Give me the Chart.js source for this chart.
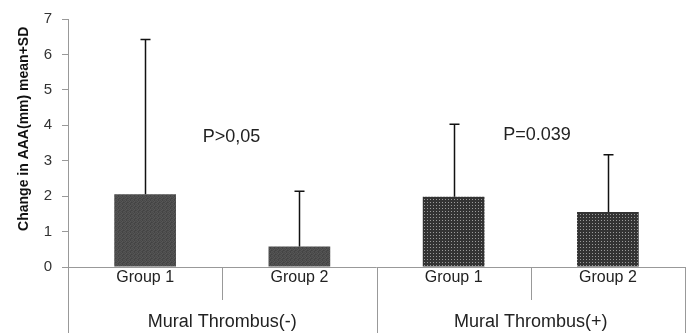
<!DOCTYPE html>
<html lang="en">
<head>
    <meta charset="UTF-8">
    <title>Change in AAA</title>
    <script src="https://cdn.jsdelivr.net/npm/chart.js"></script>
    <style>
        html, body { margin: 0; padding: 0; background: #fff; }
        #wrap { width: 694px; height: 333px; }
    </style>
</head>
<body>
    <div id="wrap"><canvas id="myChart" width="694" height="333"></canvas></div>

    <script>
        const groups = ['Group 1', 'Group 2', 'Group 1', 'Group 2'];
        const thrombusLabels = ['Mural Thrombus(-)', 'Mural Thrombus(+)'];
        const means = [2.05, 0.58, 1.98, 1.55];
        const sdTops = [6.42, 2.14, 4.03, 3.17];
        const pLabels = ['P>0,05', 'P=0.039'];
        const pPos = [0.56, 2.54];      // position along the category axis
        const pHeights = [3.67, 3.72];
        const yTicks = [0, 1, 2, 3, 4, 5, 6, 7];
        const yTitle = 'Change in AAA(mm) mean+SD';

        const FONT = '"Liberation Sans", Arial, sans-serif';

        // textures for the bars
        function noisePattern() {
            const c = document.createElement('canvas');
            c.width = 4; c.height = 4;
            const g = c.getContext('2d');
            const shades = ['#4a4a4a', '#555', '#444', '#505050',
                            '#525252', '#464646', '#585858', '#4c4c4c',
                            '#484848', '#565656', '#4e4e4e', '#424242',
                            '#545454', '#4b4b4b', '#444', '#515151'];
            for (let i = 0; i < 16; i++) {
                g.fillStyle = shades[i];
                g.fillRect(i % 4, Math.floor(i / 4), 1, 1);
            }
            return g.createPattern(c, 'repeat');
        }
        function dotPattern() {
            const c = document.createElement('canvas');
            c.width = 3; c.height = 3;
            const g = c.getContext('2d');
            g.fillStyle = '#333';
            g.fillRect(0, 0, 3, 3);
            g.fillStyle = '#9a9a9a';
            g.fillRect(1, 1, 1, 1);
            return g.createPattern(c, 'repeat');
        }
        const fills = [noisePattern(), noisePattern(), dotPattern(), dotPattern()];

        const errorBars = {
            id: 'errorBars',
            afterDatasetsDraw(chart) {
                const ctx = chart.ctx;
                const meta = chart.getDatasetMeta(0);
                const y = chart.scales.y;
                ctx.save();
                ctx.strokeStyle = '#111';
                ctx.lineWidth = 1.5;
                meta.data.forEach((bar, i) => {
                    const x = Math.round(bar.x) + 0.5;
                    const top = y.getPixelForValue(sdTops[i]);
                    ctx.beginPath();
                    ctx.moveTo(x, bar.y);
                    ctx.lineTo(x, top);
                    ctx.moveTo(x - 5, top);
                    ctx.lineTo(x + 5, top);
                    ctx.stroke();
                });
                ctx.restore();
            }
        };

        const groupAxis = {
            id: 'groupAxis',
            afterDraw(chart) {
                const ctx = chart.ctx;
                const x = chart.scales.x;
                const y = chart.scales.y;
                const area = chart.chartArea;
                const base = y.getPixelForValue(0);
                const step = x.getPixelForValue(1) - x.getPixelForValue(0);
                ctx.save();
                ctx.strokeStyle = '#999';
                ctx.lineWidth = 1;
                // bottom axis line
                ctx.beginPath();
                ctx.moveTo(area.left, Math.round(base) + 0.5);
                ctx.lineTo(area.right, Math.round(base) + 0.5);
                // dividers
                for (let i = 0; i <= groups.length; i++) {
                    const px = Math.round(x.getPixelForValue(i) - step / 2) + 0.5;
                    const long = i % 2 === 0;
                    ctx.moveTo(px, base);
                    ctx.lineTo(px, long ? chart.height : base + 33);
                }
                ctx.stroke();

                ctx.fillStyle = '#222';
                ctx.textAlign = 'center';
                ctx.textBaseline = 'middle';
                ctx.font = '16px ' + FONT;
                groups.forEach((g, i) => {
                    ctx.fillText(g, x.getPixelForValue(i), base + 11);
                });
                ctx.font = '18px ' + FONT;
                thrombusLabels.forEach((t, j) => {
                    const cx = (x.getPixelForValue(2 * j) + x.getPixelForValue(2 * j + 1)) / 2;
                    ctx.fillText(t, cx, base + 55);
                });
                pLabels.forEach((p, j) => {
                    const cx = x.getPixelForValue(0) + pPos[j] * step;
                    ctx.fillText(p, cx, y.getPixelForValue(pHeights[j]));
                });

                // y axis title
                ctx.translate(24, y.getPixelForValue(3.9));
                ctx.rotate(-Math.PI / 2);
                ctx.fillStyle = '#111';
                ctx.font = 'bold 14px ' + FONT;
                ctx.fillText(yTitle, 0, 0);
                ctx.restore();
            }
        };

        const ctx = document.getElementById('myChart').getContext('2d');
        const myChart = new Chart(ctx, {
            type: 'bar',
            data: {
                labels: groups,
                datasets: [{
                    data: means,
                    backgroundColor: fills,
                    borderWidth: 0,
                    barPercentage: 0.4,
                    categoryPercentage: 1.0
                }]
            },
            options: {
                responsive: false,
                animation: false,
                layout: { padding: { top: 15, right: 9, bottom: 66, left: 0 } },
                plugins: {
                    legend: { display: false },
                    tooltip: { enabled: false }
                },
                scales: {
                    x: { display: false },
                    y: {
                        min: 0,
                        max: 7,
                        afterBuildTicks(scale) {
                            scale.ticks = yTicks.map(v => ({ value: v }));
                        },
                        afterFit(scale) { scale.width = 68; },
                        border: { color: '#999', width: 1 },
                        grid: {
                            drawOnChartArea: false,
                            tickLength: 6,
                            color: '#999'
                        },
                        ticks: {
                            color: '#333',
                            padding: 10,
                            font: { family: FONT, size: 15 }
                        },
                        title: { display: false }
                    }
                }
            },
            plugins: [errorBars, groupAxis]
        });
    </script>
</body>
</html>
